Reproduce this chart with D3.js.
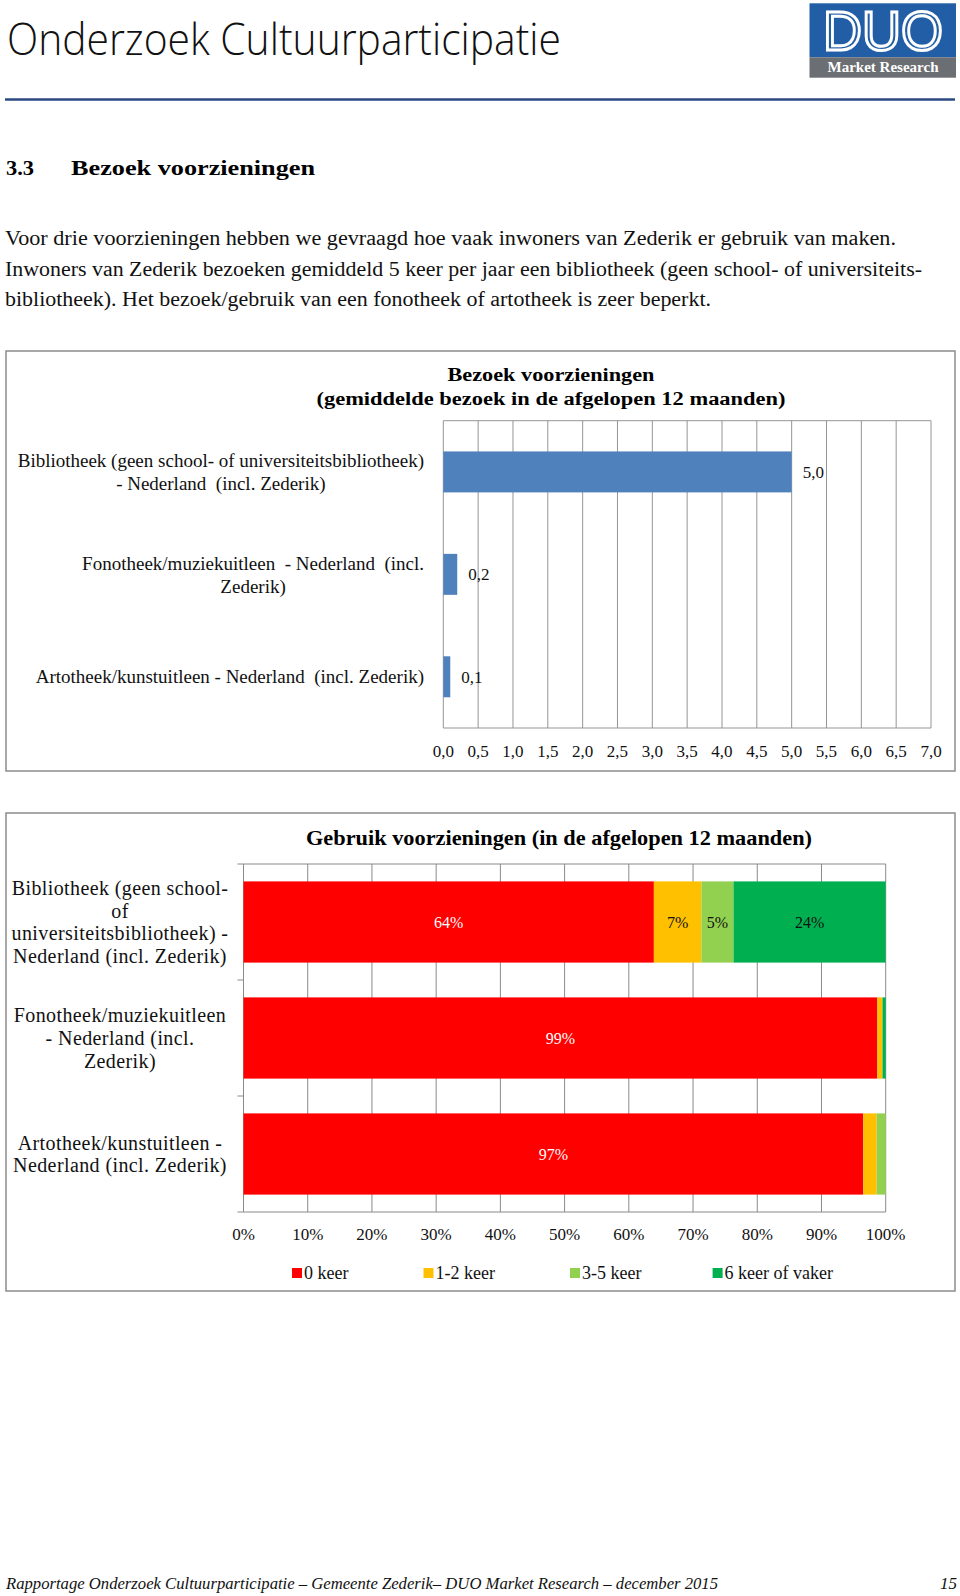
<!DOCTYPE html>
<html><head><meta charset="utf-8">
<script src="https://cdn.jsdelivr.net/npm/d3@7"></script>
<style>body{margin:0;background:#fff} svg{display:block} .pre{white-space:pre}</style>
</head><body>
<script>
// ---------- DATA ----------
const visitCategories = [
  ["Bibliotheek (geen school- of universiteitsbibliotheek)", "- Nederland  (incl. Zederik)"],
  ["Fonotheek/muziekuitleen  - Nederland  (incl.", "Zederik)"],
  ["Artotheek/kunstuitleen - Nederland  (incl. Zederik)"]
];
const visitValues = [5.0, 0.2, 0.1];
const visitTicks = [0, 0.5, 1, 1.5, 2, 2.5, 3, 3.5, 4, 4.5, 5, 5.5, 6, 6.5, 7];

const useCategories = [
  ["Bibliotheek (geen school-", "of", "universiteitsbibliotheek) -", "Nederland (incl. Zederik)"],
  ["Fonotheek/muziekuitleen", "- Nederland (incl.", "Zederik)"],
  ["Artotheek/kunstuitleen -", "Nederland (incl. Zederik)"]
];
const useSeries = ["0 keer", "1-2 keer", "3-5 keer", "6 keer of vaker"];
const use0keer = [63.9, 98.7, 96.5];
const use12keer = [7.4, 0.8, 2.1];
const use35keer = [5.0, 0.0, 1.4];
const use6keer = [23.7, 0.5, 0.0];
const useTicks = [0, 10, 20, 30, 40, 50, 60, 70, 80, 90, 100];

const paragraphLines = [
  "Voor drie voorzieningen hebben we gevraagd hoe vaak inwoners van Zederik er gebruik van maken.",
  "Inwoners van Zederik bezoeken gemiddeld 5 keer per jaar een bibliotheek (geen school- of universiteits-",
  "bibliotheek). Het bezoek/gebruik van een fonotheek of artotheek is zeer beperkt."
];

// ---------- SETUP ----------
const W = 960, H = 1596;
const serif = "'Liberation Serif','Times New Roman',serif";
const svg = d3.select("body").append("svg").attr("width", W).attr("height", H);
const nl = d3.formatLocale({decimal: ",", thousands: ".", grouping: [3], currency: ["€", ""]});
const f1 = nl.format(".1f");

// ---------- HEADER ----------
svg.append("text").attr("x", 7).attr("y", 55)
  .attr("font-family", "'Open Sans',sans-serif").attr("font-weight", 300).attr("font-size", 45)
  .attr("textLength", 554).attr("lengthAdjust", "spacingAndGlyphs")
  .attr("fill", "#111").text("Onderzoek Cultuurparticipatie");

// logo
const logo = svg.append("g");
logo.append("rect").attr("x", 809.5).attr("y", 3.3).attr("width", 146.5).attr("height", 54).attr("fill", "#215ea6");
logo.append("rect").attr("x", 809.5).attr("y", 57.3).attr("width", 146.5).attr("height", 20.4).attr("fill", "#6b6e72");
logo.append("text").attr("x", 883).attr("y", 50).attr("text-anchor", "middle")
  .attr("font-family", "'Liberation Sans',sans-serif").attr("font-size", 56)
  .attr("textLength", 120).attr("lengthAdjust", "spacingAndGlyphs")
  .attr("fill", "#215ea6").attr("stroke", "#fff").attr("stroke-width", 3).text("DUO");
logo.append("text").attr("x", 883).attr("y", 72).attr("text-anchor", "middle")
  .attr("font-family", serif).attr("font-weight", "bold").attr("font-size", 14)
  .attr("textLength", 111).attr("lengthAdjust", "spacingAndGlyphs")
  .attr("fill", "#fff").text("Market Research");

svg.append("line").attr("x1", 5).attr("x2", 955).attr("y1", 99.5).attr("y2", 99.5)
  .attr("stroke", "#2a4a80").attr("stroke-width", 2.5);

// section title
svg.append("text").attr("x", 6).attr("y", 175).attr("font-family", serif).attr("font-weight", "bold")
  .attr("font-size", 22).attr("textLength", 28).attr("lengthAdjust", "spacingAndGlyphs").text("3.3");
svg.append("text").attr("x", 71).attr("y", 175).attr("font-family", serif).attr("font-weight", "bold")
  .attr("font-size", 22).attr("textLength", 244).attr("lengthAdjust", "spacingAndGlyphs").text("Bezoek voorzieningen");

// paragraph
const paraWidths = [891, 917, 706];
svg.selectAll("text.para").data(paragraphLines).join("text").attr("class", "para")
  .attr("x", 5).attr("y", (d, i) => 245 + i * 30.5)
  .attr("font-family", serif).attr("font-size", 20)
  .attr("textLength", (d, i) => paraWidths[i]).attr("lengthAdjust", "spacingAndGlyphs")
  .attr("fill", "#111").text(d => d);

// helper: multi-line label
function multiLabel(g, lines, cx, cy, lh, size, anchorRight, ls) {
  const t = g.append("text").attr("class", "pre").attr("font-family", serif).attr("font-size", size).attr("fill", "#111")
    .attr("letter-spacing", ls || 0).attr("text-anchor", "middle");
  lines.forEach((ln, i) => {
    t.append("tspan").attr("y", cy + (i - (lines.length - 1) / 2) * lh).attr("dy", "0.35em").text(ln);
  });
  let maxW = 0;
  t.selectAll("tspan").each(function() { maxW = Math.max(maxW, this.getComputedTextLength()); });
  const x = anchorRight ? cx - maxW / 2 : cx;
  t.selectAll("tspan").attr("x", x);
}

// ---------- CHART 1 ----------
const c1 = svg.append("g");
c1.append("rect").attr("x", 6).attr("y", 351).attr("width", 949).attr("height", 420)
  .attr("fill", "none").attr("stroke", "#8c8c8c").attr("stroke-width", 1.5);
c1.append("text").attr("x", 551).attr("y", 381).attr("text-anchor", "middle").attr("font-family", serif)
  .attr("font-weight", "bold").attr("font-size", 18).attr("textLength", 207).attr("lengthAdjust", "spacingAndGlyphs")
  .text("Bezoek voorzieningen");
c1.append("text").attr("x", 551).attr("y", 405).attr("text-anchor", "middle").attr("font-family", serif)
  .attr("font-weight", "bold").attr("font-size", 18).attr("textLength", 469).attr("lengthAdjust", "spacingAndGlyphs")
  .text("(gemiddelde bezoek in de afgelopen 12 maanden)");

const x1 = d3.scaleLinear().domain([0, 7]).range([443.3, 931]);
const y1 = d3.scaleBand().domain(d3.range(visitValues.length)).range([420.7, 728]).paddingInner(0.6).paddingOuter(0.3);

c1.selectAll("line.grid").data(visitTicks).join("line").attr("class", "grid")
  .attr("x1", d => x1(d)).attr("x2", d => x1(d)).attr("y1", y1.range()[0]).attr("y2", y1.range()[1])
  .attr("stroke", "#959595").attr("stroke-width", 1);
c1.append("line").attr("x1", x1(0)).attr("x2", x1(7)).attr("y1", y1.range()[0]).attr("y2", y1.range()[0])
  .attr("stroke", "#959595");
c1.append("line").attr("x1", x1(0)).attr("x2", x1(7)).attr("y1", y1.range()[1]).attr("y2", y1.range()[1])
  .attr("stroke", "#959595");

c1.selectAll("rect.bar").data(visitValues).join("rect").attr("class", "bar")
  .attr("x", x1(0)).attr("y", (d, i) => y1(i)).attr("width", d => x1(d) - x1(0)).attr("height", y1.bandwidth())
  .attr("fill", "#4f81bd");
c1.selectAll("text.val").data(visitValues).join("text").attr("class", "val")
  .attr("x", d => x1(d) + 11).attr("y", (d, i) => y1(i) + y1.bandwidth() / 2).attr("dy", "0.35em")
  .attr("font-family", serif).attr("font-size", 17).attr("fill", "#111").text(d => f1(d));
c1.selectAll("text.tick").data(visitTicks).join("text").attr("class", "tick")
  .attr("x", d => x1(d)).attr("y", 757).attr("text-anchor", "middle")
  .attr("font-family", serif).attr("font-size", 17).attr("fill", "#111").text(d => f1(d));
visitCategories.forEach((lines, i) => {
  multiLabel(c1, lines, 424, y1(i) + y1.bandwidth() / 2, 23, 19, true, 0);
});

// ---------- CHART 2 ----------
const c2 = svg.append("g");
c2.append("rect").attr("x", 6).attr("y", 813).attr("width", 949).attr("height", 478)
  .attr("fill", "none").attr("stroke", "#8c8c8c").attr("stroke-width", 1.5);
c2.append("text").attr("x", 559).attr("y", 845).attr("text-anchor", "middle").attr("font-family", serif)
  .attr("font-weight", "bold").attr("font-size", 20).attr("textLength", 506).attr("lengthAdjust", "spacingAndGlyphs")
  .text("Gebruik voorzieningen  (in de afgelopen 12 maanden)");

const x2 = d3.scaleLinear().domain([0, 100]).range([243.5, 885.7]);
const y2 = d3.scaleBand().domain(d3.range(useCategories.length)).range([864, 1212]).paddingInner(0.3).paddingOuter(0.15);
const colors = d3.scaleOrdinal().domain(useSeries).range(["#ff0000", "#ffc000", "#92d050", "#00b050"]);

c2.selectAll("line.grid").data(useTicks).join("line").attr("class", "grid")
  .attr("x1", d => x2(d)).attr("x2", d => x2(d)).attr("y1", y2.range()[0]).attr("y2", y2.range()[1])
  .attr("stroke", "#8a8a8a").attr("stroke-width", 1);
c2.append("line").attr("x1", x2(0)).attr("x2", x2(100)).attr("y1", y2.range()[0]).attr("y2", y2.range()[0]).attr("stroke", "#8a8a8a");
c2.append("line").attr("x1", x2(0)).attr("x2", x2(100)).attr("y1", y2.range()[1]).attr("y2", y2.range()[1]).attr("stroke", "#8a8a8a");
// category tick marks at band boundaries
c2.selectAll("line.ytick").data(d3.range(useCategories.length + 1)).join("line").attr("class", "ytick")
  .attr("x1", x2(0) - 6).attr("x2", x2(0)).attr("y1", k => y2.range()[0] + k * y2.step()).attr("y2", k => y2.range()[0] + k * y2.step())
  .attr("stroke", "#8a8a8a");

const rows = useCategories.map((c, i) => ({i, "0 keer": use0keer[i], "1-2 keer": use12keer[i], "3-5 keer": use35keer[i], "6 keer of vaker": use6keer[i]}));
const stacked = d3.stack().keys(useSeries)(rows);
const layer = c2.selectAll("g.layer").data(stacked).join("g").attr("class", "layer").attr("fill", d => colors(d.key));
layer.selectAll("rect").data(d => d).join("rect")
  .attr("x", d => x2(d[0])).attr("width", d => x2(d[1]) - x2(d[0]))
  .attr("y", d => y2(d.data.i)).attr("height", y2.bandwidth());
layer.selectAll("text").data(d => d.filter(s => s[1] - s[0] >= 3).map(s => Object.assign(s, {key: d.key}))).join("text")
  .attr("x", d => x2((d[0] + d[1]) / 2)).attr("y", d => y2(d.data.i) + y2.bandwidth() / 2).attr("dy", "0.35em")
  .attr("text-anchor", "middle").attr("font-family", serif).attr("font-size", 16)
  .attr("fill", d => d.key === "0 keer" ? "#fff" : "#111")
  .text(d => Math.round(d[1] - d[0]) + "%");

c2.selectAll("text.tick").data(useTicks).join("text").attr("class", "tick")
  .attr("x", d => x2(d)).attr("y", 1240).attr("text-anchor", "middle")
  .attr("font-family", serif).attr("font-size", 17).attr("fill", "#111").text(d => d + "%");
useCategories.forEach((lines, i) => {
  multiLabel(c2, lines, 120, y2(i) + y2.bandwidth() / 2, 22.7, 20, false, 0.4);
});

// legend
const legendX = [292, 423.5, 570, 712.6];
const leg = c2.selectAll("g.leg").data(useSeries).join("g").attr("class", "leg")
  .attr("transform", (d, i) => `translate(${legendX[i]},1273)`);
leg.append("rect").attr("x", 0).attr("y", -5).attr("width", 10).attr("height", 10).attr("fill", d => colors(d));
leg.append("text").attr("x", 12).attr("y", 0).attr("dy", "0.35em").attr("font-family", serif)
  .attr("font-size", 18).attr("fill", "#111").text(d => d);

// ---------- FOOTER ----------
svg.append("text").attr("x", 6).attr("y", 1589).attr("font-family", serif).attr("font-style", "italic")
  .attr("font-size", 17).attr("textLength", 712).attr("lengthAdjust", "spacingAndGlyphs").attr("fill", "#111")
  .text("Rapportage Onderzoek Cultuurparticipatie – Gemeente Zederik– DUO Market Research – december 2015");
svg.append("text").attr("x", 957).attr("y", 1589).attr("text-anchor", "end").attr("font-family", serif)
  .attr("font-style", "italic").attr("font-size", 17).attr("fill", "#111").text("15");
</script>
</body></html>
